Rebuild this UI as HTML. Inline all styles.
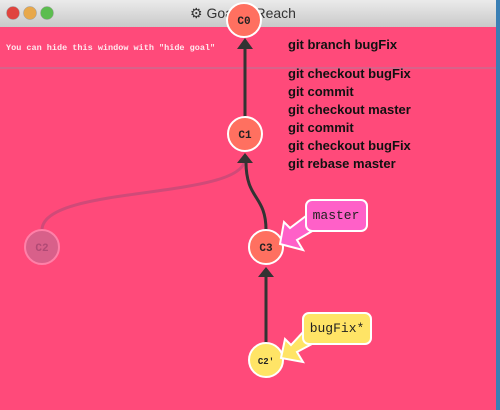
<!DOCTYPE html>
<html><head><style>
body{margin:0;width:500px;height:410px;overflow:hidden;background:#ff4a7a;font-family:"Liberation Sans",sans-serif}
</style></head><body>
<svg width="500" height="410" style="position:absolute;left:0;top:0">
<defs><linearGradient id="tb" x1="0" y1="0" x2="0" y2="1"><stop offset="0" stop-color="#ebebeb"/><stop offset="1" stop-color="#c9c9c9"/></linearGradient></defs>
<rect x="0" y="0" width="500" height="27" fill="url(#tb)"/>
<rect x="0" y="27" width="500" height="383" fill="#ff4a7a"/>
<rect x="496" y="0" width="4" height="410" fill="#3a7fb5"/>
<circle cx="13" cy="13" r="6.5" fill="#e0443e" stroke="#999" stroke-width="0.5"/>
<circle cx="30" cy="13" r="6.5" fill="#e8a84b" stroke="#999" stroke-width="0.5"/>
<circle cx="47" cy="13" r="6.5" fill="#5cbd4f" stroke="#999" stroke-width="0.5"/>
<text x="190" y="18" font-size="14" fill="#333">⚙ Goal to Reach</text>
<line x1="0" y1="68" x2="496" y2="68" stroke="#b07a9a" stroke-width="1"/>
<text x="6" y="50" font-family="Liberation Mono,monospace" font-size="8.5" font-weight="bold" fill="#ffe8ee">You can hide this window with "hide goal"</text>
<path d="M42 230 C42 185 240 200 245 160" stroke="#d04a78" stroke-width="3" fill="none"/>
<line x1="245" y1="117" x2="245" y2="48" stroke="#333" stroke-width="3"/>
<polygon points="245,38 237,49 253,49" fill="#333"/>
<path d="M266 230 C266 195 246 200 246 162" stroke="#333" stroke-width="3" fill="none"/>
<polygon points="245,153 237,163 253,163" fill="#333"/>
<line x1="266" y1="343" x2="266" y2="276" stroke="#333" stroke-width="3"/>
<polygon points="266,267 258,277 274,277" fill="#333"/>
<circle cx="244" cy="20" r="17" fill="#ff7060" stroke="#fff" stroke-width="2"/>
<circle cx="245" cy="134" r="17" fill="#ff7060" stroke="#fff" stroke-width="2"/>
<circle cx="42" cy="247" r="17" fill="#d8608a" stroke="#ff80a8" stroke-width="2"/>
<circle cx="266" cy="247" r="17" fill="#ff7060" stroke="#fff" stroke-width="2"/>
<circle cx="266" cy="360" r="17" fill="#ffe466" stroke="#fff" stroke-width="2"/>
<g font-family="Liberation Mono,monospace" font-size="11" font-weight="bold" text-anchor="middle" fill="#222">
<text x="244" y="24">C0</text><text x="245" y="138">C1</text><text x="42" y="251" fill="#b04a75">C2</text><text x="266" y="251">C3</text><text x="266" y="364" font-size="9">C2'</text></g>
<polygon points="280,244 284,222 290,228 306,216 314,230 297,240 303,250" fill="#ff60c8" stroke="#fff" stroke-width="2"/>
<rect x="306" y="200" width="61" height="31" rx="6" fill="#ff60c8" stroke="#fff" stroke-width="2"/>
<text x="336" y="219" font-family="Liberation Mono,monospace" font-size="13" text-anchor="middle" fill="#222">master</text>
<polygon points="281,358 285,339 291,345 304,331 312,344 297,352 303,362" fill="#ffe466" stroke="#fff" stroke-width="2"/>
<rect x="303" y="313" width="68" height="31" rx="6" fill="#ffe466" stroke="#fff" stroke-width="2"/>
<text x="337" y="332" font-family="Liberation Mono,monospace" font-size="13" text-anchor="middle" fill="#222">bugFix*</text>
<g font-size="13" font-weight="bold" fill="#111">
<text x="288" y="49">git branch bugFix</text>
<text x="288" y="78">git checkout bugFix</text>
<text x="288" y="96">git commit</text>
<text x="288" y="114">git checkout master</text>
<text x="288" y="132">git commit</text>
<text x="288" y="150">git checkout bugFix</text>
<text x="288" y="168">git rebase master</text>
</g>
</svg>
</body></html>
